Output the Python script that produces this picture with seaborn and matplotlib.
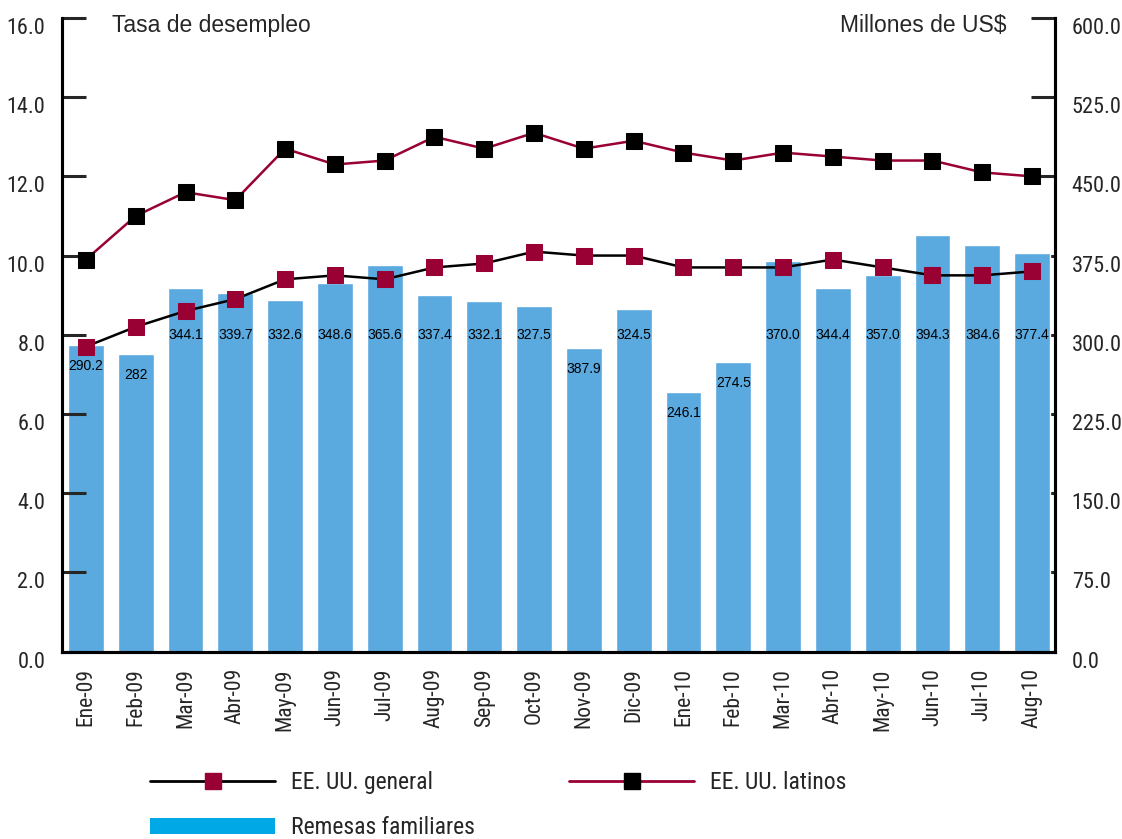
import numpy as np
import pandas as pd
import matplotlib
matplotlib.use("Agg")
import matplotlib.pyplot as plt
import seaborn as sns
from matplotlib import font_manager as fm
from matplotlib.lines import Line2D
from matplotlib.patches import Patch

# --- datos ---
meses = ["Ene-09", "Feb-09", "Mar-09", "Abr-09", "May-09", "Jun-09", "Jul-09",
         "Aug-09", "Sep-09", "Oct-09", "Nov-09", "Dic-09", "Ene-10", "Feb-10",
         "Mar-10", "Abr-10", "May-10", "Jun-10", "Jul-10", "Aug-10"]
# remesas familiares (millones de US$)
remesas = [290.2, 282.0, 344.1, 339.7, 332.6, 348.6, 365.6, 337.4, 332.1, 327.5,
           287.9, 324.5, 246.1, 274.5, 370.0, 344.4, 357.0, 394.3, 384.6, 377.4]
# etiquetas tal como aparecen en el grafico
etiquetas = ["290.2", "282", "344.1", "339.7", "332.6", "348.6", "365.6", "337.4",
             "332.1", "327.5", "387.9", "324.5", "246.1", "274.5", "370.0", "344.4",
             "357.0", "394.3", "384.6", "377.4"]
# tasa de desempleo (%)
general = [7.7, 8.2, 8.6, 8.9, 9.4, 9.5, 9.4, 9.7, 9.8, 10.1,
           10.0, 10.0, 9.7, 9.7, 9.7, 9.9, 9.7, 9.5, 9.5, 9.6]
latinos = [9.9, 11.0, 11.6, 11.4, 12.7, 12.3, 12.4, 13.0, 12.7, 13.1,
           12.7, 12.9, 12.6, 12.4, 12.6, 12.5, 12.4, 12.4, 12.1, 12.0]

izq_ticks = [0, 2, 4, 6, 8, 10, 12, 14, 16]
der_ticks = [0, 75, 150, 225, 300, 375, 450, 525, 600]

AZUL = "#5AA9DF"
AZUL_LEY = "#00A8E6"
VINO = "#990033"

# buscar una fuente condensada (el original usa una tipografia estrecha)
narrow = None
pref = ["Liberation Sans Narrow", "Roboto Condensed", "Open Sans Condensed",
        "Noto Sans Condensed", "DejaVu Sans Condensed"]
found = []
for f in fm.fontManager.ttflist:
    if f.style != "normal" or f.weight not in (400, "normal", "regular", "book"):
        continue
    if "Narrow" in f.name or "Condensed" in f.name:
        found.append((f.name, "normal"))
    elif f.stretch in ("condensed", "semi-condensed"):
        found.append((f.name, f.stretch))
for p in pref:
    for n, st in found:
        if n == p:
            narrow = (n, st)
            break
    if narrow:
        break
if narrow is None and found:
    narrow = found[0]

sns.set_style("white")
if narrow:
    plt.rcParams["font.family"] = [narrow[0], "Liberation Sans", "DejaVu Sans"]
    plt.rcParams["font.stretch"] = narrow[1]
    TK, XT, LG = 16, 15.5, 17
else:
    plt.rcParams["font.family"] = ["Liberation Sans", "DejaVu Sans"]
    TK, XT, LG = 13.5, 14, 15

df = pd.DataFrame({"mes": meses, "remesas": remesas,
                   "general": general, "latinos": latinos})

fig = plt.figure(figsize=(11.22, 8.39), dpi=100)
ax1 = fig.add_axes([62 / 1122, 1 - 651.5 / 839, 993 / 1122, 633.5 / 839])
ax2 = ax1.twinx()
ax1.yaxis.tick_right()
ax2.yaxis.tick_left()

# barras (eje derecho)
sns.barplot(data=df, x="mes", y="remesas", color=AZUL, saturation=1,
            width=0.72, ax=ax1)
for i, (v, t) in enumerate(zip(remesas, etiquetas)):
    ax1.text(i, min(300, v - 20), t, ha="center", va="center",
             fontsize=10, family="Liberation Sans", stretch="normal", color="black")

# lineas (eje izquierdo)
sns.lineplot(data=df, x="mes", y="latinos", color=VINO, lw=1.8, marker="s",
             markersize=11, markerfacecolor="black", markeredgecolor="black",
             ax=ax2, sort=False)
sns.lineplot(data=df, x="mes", y="general", color="black", lw=1.8, marker="s",
             markersize=11, markerfacecolor=VINO, markeredgecolor=VINO,
             ax=ax2, sort=False)

ax1.set_xlim(-0.48, 19.46)
ax1.set_ylim(0, 600)
ax2.set_ylim(0, 16)
for ax in (ax1, ax2):
    ax.set_xlabel("")
    ax.set_ylabel("")

ax1.set_yticks(der_ticks)
ax1.set_yticklabels([f"{t:.1f}" for t in der_ticks])
ax2.set_yticks(izq_ticks)
ax2.set_yticklabels([f"{t:.1f}" for t in izq_ticks])

ax1.set_xticks(range(len(meses)))
ax1.set_xticklabels(meses, rotation=90, fontsize=XT)
ax1.set_xticks(np.arange(0.5, len(meses) - 1, 1), minor=True)
ax1.tick_params(axis="x", which="major", length=0, pad=12)
ax1.tick_params(axis="x", which="minor", direction="in", length=11, width=2.2)

ax1.tick_params(axis="y", direction="in", length=17, width=2.2, pad=12,
                labelsize=TK)
ax2.tick_params(axis="y", direction="in", length=17, width=2.2, pad=12,
                labelsize=TK)
for lab in ax1.get_yticklabels() + ax2.get_yticklabels():
    lab.set_verticalalignment("top")

for ax in (ax1, ax2):
    ax.spines["top"].set_visible(False)
    for s in ("left", "right", "bottom"):
        ax.spines[s].set_linewidth(2.2)
        ax.spines[s].set_color("black")
    ax.grid(False)

ax2.text(0.0504, 0.978, "Tasa de desempleo", transform=ax2.transAxes,
         ha="left", va="baseline", fontsize=16.5, family="Liberation Sans",
         stretch="normal")
ax2.text(0.9514, 0.978, "Millones de US$", transform=ax2.transAxes,
         ha="right", va="baseline", fontsize=16.5, family="Liberation Sans",
         stretch="normal")

# leyenda
h_gen = Line2D([], [], color="black", lw=2, marker="s", markersize=11,
               markerfacecolor=VINO, markeredgecolor=VINO)
h_lat = Line2D([], [], color=VINO, lw=2, marker="s", markersize=11,
               markerfacecolor="black", markeredgecolor="black")
h_rem = Patch(facecolor=AZUL_LEY, edgecolor="none")
fig.legend([h_gen, h_rem, h_lat],
           ["EE. UU. general", "Remesas familiares", "EE. UU. latinos"],
           ncol=2, loc="upper left", bbox_to_anchor=(150 / 1122, 1 - 771 / 839),
           frameon=False, fontsize=LG, handlelength=125 / (LG * 100 / 72),
           handletextpad=16 / (LG * 100 / 72), columnspacing=4.0,
           labelspacing=0.95, borderpad=0, borderaxespad=0)

fig.savefig("out.png", dpi=100)
